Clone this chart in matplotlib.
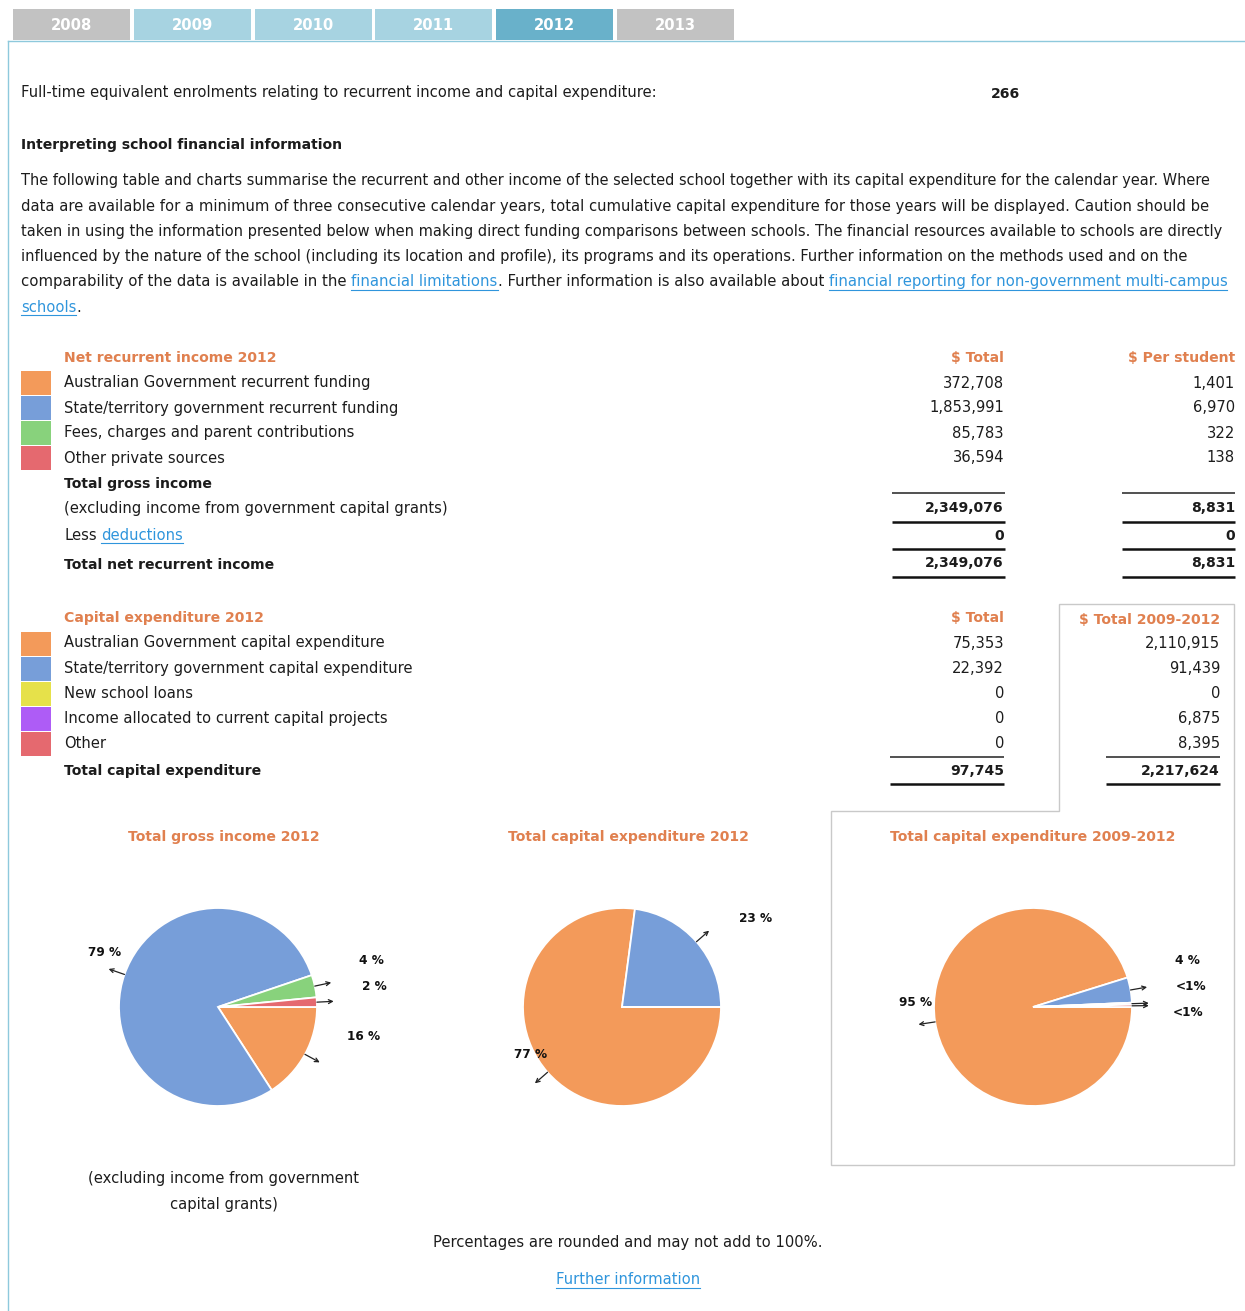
import matplotlib
matplotlib.use('Agg')
import matplotlib.pyplot as plt
from matplotlib.patches import Rectangle, Polygon
import numpy as np

plt.rcParams['font.family'] = ['DejaVu Sans']

# ---------------- data ----------------
tab_years = ['2008', '2009', '2010', '2011', '2012', '2013']
tab_colors = ['#c2c2c2', '#a7d3e1', '#a7d3e1', '#a7d3e1', '#69b1ca', '#c2c2c2']
fte_enrolments = 266

income_labels = ['Australian Government recurrent funding',
                 'State/territory government recurrent funding',
                 'Fees, charges and parent contributions',
                 'Other private sources']
income_total = [372708, 1853991, 85783, 36594]
income_per_student = [1401, 6970, 322, 138]
income_colors = ['#f39a5a', '#779ed9', '#88d27c', '#e5696f']
gross_total, gross_per_student = 2349076, 8831
deductions_total, deductions_per_student = 0, 0
net_total, net_per_student = 2349076, 8831

capital_labels = ['Australian Government capital expenditure',
                  'State/territory government capital expenditure',
                  'New school loans',
                  'Income allocated to current capital projects',
                  'Other']
capital_2012 = [75353, 22392, 0, 0, 0]
capital_2009_2012 = [2110915, 91439, 0, 6875, 8395]
capital_colors = ['#f39a5a', '#779ed9', '#e6e14a', '#ae5cf6', '#e5696f']
capital_total_2012 = 97745
capital_total_2009_2012 = 2217624

paragraph = [
    [("The following table and charts summarise the recurrent and other income of the selected school together with its capital expenditure for the calendar year. Where", False)],
    [("data are available for a minimum of three consecutive calendar years, total cumulative capital expenditure for those years will be displayed. Caution should be", False)],
    [("taken in using the information presented below when making direct funding comparisons between schools. The financial resources available to schools are directly", False)],
    [("influenced by the nature of the school (including its location and profile), its programs and its operations. Further information on the methods used and on the", False)],
    [("comparability of the data is available in the ", False), ("financial limitations", True),
     (". Further information is also available about ", False),
     ("financial reporting for non-government multi-campus", True)],
    [("schools", True), (".", False)],
]
paragraph_line_ends = [1221, 1205, 1227, 1192, 1221, None]

# ---------------- styling ----------------
W, H = 1245, 1311
TXT = '#1c1c1c'
ORANGE_T = '#e0804f'
LINK = '#2f95dc'
BORDER = '#8ec9dc'

fig = plt.figure(figsize=(W / 100, H / 100), dpi=100, facecolor='white')
ax = fig.add_axes([0, 0, 1, 1])
ax.set_xlim(0, W)
ax.set_ylim(H, 0)
ax.axis('off')
ax.set_zorder(10)
renderer = fig.canvas.get_renderer()


def width_of(s, fs, **kw):
    t = ax.text(0, 0, s, fontsize=fs, **kw)
    w = t.get_window_extent(renderer).width
    t.remove()
    return w


def fit_size(s, target, fs0, **kw):
    fs = fs0
    for _ in range(4):
        fs *= target / width_of(s, fs, **kw)
    return fs


# calibrate base font size on a reference line width
FS = fit_size('Full-time equivalent enrolments relating to recurrent income and capital expenditure:', 636, 10)
FSB = FS * 0.95   # bold text is wider in DejaVu


def txt(x, y, s, ha='left', color=TXT, fs=None, bold=False, **kw):
    if bold:
        kw['fontweight'] = 'bold'
        size = fs or FSB
    else:
        size = fs or FS
    return ax.text(x, y, s, ha=ha, va='center', fontsize=size, color=color, **kw)


def link(x, y, s, ha='left', fs=None):
    t = txt(x, y, s, ha=ha, color=LINK, fs=fs)
    bb = t.get_window_extent(renderer)
    ax.plot([bb.x0, bb.x1], [y + 8, y + 8], color=LINK, lw=0.8)
    return bb


# ---------------- tabs & frame ----------------
tab_x0, tab_w, tab_gap = 13, 117, 3.8
for i, (yr, c) in enumerate(zip(tab_years, tab_colors)):
    x0 = tab_x0 + i * (tab_w + tab_gap)
    ax.add_patch(Rectangle((x0, 9), tab_w, 31, color=c, lw=0))
    txt(x0 + tab_w / 2, 25, yr, ha='center', color='white', bold=True, fs=FS)
ax.plot([8, W], [41, 41], color=BORDER, lw=1.0)
ax.plot([8, 8], [41, H], color=BORDER, lw=1.0)

# ---------------- header text ----------------
txt(21, 93, 'Full-time equivalent enrolments relating to recurrent income and capital expenditure:')
txt(1006, 94, str(fte_enrolments), ha='center', bold=True)
txt(21, 145, 'Interpreting school financial information', bold=True)

py = 181
for line, end in zip(paragraph, paragraph_line_ends):
    full = ''.join(s for s, _ in line)
    fs = FS if end is None else fit_size(full, end - 21, FS)
    space_w = width_of('x x', fs) - width_of('xx', fs)
    x = 21
    for seg, is_link in line:
        s = seg.strip(' ')
        lead = len(seg) - len(seg.lstrip(' '))
        trail = len(seg) - len(seg.rstrip(' '))
        x += lead * space_w
        if is_link:
            bb = link(x, py, s, fs=fs)
            x = bb.x1
        else:
            t = txt(x, py, s, fs=fs)
            x = t.get_window_extent(renderer).x1
        x += trail * space_w
    py += 25.2

SPACE_W = width_of('x x', FS) - width_of('xx', FS)

# ---------------- net recurrent income table ----------------
COL1, COL2 = 1004, 1235
txt(64, 358, 'Net recurrent income 2012', color=ORANGE_T, bold=True)
txt(COL1, 358, '$ Total', ha='right', color=ORANGE_T, bold=True)
txt(COL2, 358, '$ Per student', ha='right', color=ORANGE_T, bold=True)
for i, (lab, tot, ps, c) in enumerate(zip(income_labels, income_total, income_per_student, income_colors)):
    y = 383 + 25 * i
    ax.add_patch(Rectangle((21, y - 12.5), 30, 24, color=c, lw=0))
    txt(64, y, lab)
    txt(COL1, y, f'{tot:,}', ha='right')
    txt(COL2, y, f'{ps:,}', ha='right')

txt(64, 484, 'Total gross income', bold=True)
txt(64, 509, '(excluding income from government capital grants)')
t_less = txt(64, 535, 'Less')
link(t_less.get_window_extent(renderer).x1 + SPACE_W, 535, 'deductions')
txt(64, 565, 'Total net recurrent income', bold=True)

txt(COL1, 508, f'{gross_total:,}', ha='right', bold=True)
txt(COL2, 508, f'{gross_per_student:,}', ha='right', bold=True)
txt(COL1, 536, f'{deductions_total:,}', ha='right', bold=True)
txt(COL2, 536, f'{deductions_per_student:,}', ha='right', bold=True)
txt(COL1, 563, f'{net_total:,}', ha='right', bold=True)
txt(COL2, 563, f'{net_per_student:,}', ha='right', bold=True)

for (xa, xb) in [(892, 1005), (1122, 1235)]:
    ax.plot([xa, xb], [493, 493], color='#222', lw=1.1, solid_capstyle='butt')
    for yy in (522, 549, 577):
        ax.plot([xa, xb], [yy, yy], color='#111', lw=1.8, solid_capstyle='butt')

# ---------------- capital expenditure table ----------------
CC1, CC2 = 1004, 1220
ax.add_patch(Polygon([(1059, 604), (1234, 604), (1234, 1165), (831, 1165),
                      (831, 811), (1059, 811)], closed=True, fill=False,
                     edgecolor='#c9c9c9', lw=1.0))
txt(64, 618, 'Capital expenditure 2012', color=ORANGE_T, bold=True)
txt(CC1, 618, '$ Total', ha='right', color=ORANGE_T, bold=True)
txt(CC2, 620, '$ Total 2009-2012', ha='right', color=ORANGE_T, bold=True)
for i, (lab, v1, v2, c) in enumerate(zip(capital_labels, capital_2012, capital_2009_2012, capital_colors)):
    y = 643 + 25.2 * i
    ax.add_patch(Rectangle((21, y - 11.5), 30, 24, color=c, lw=0))
    txt(64, y, lab)
    txt(CC1, y, f'{v1:,}', ha='right')
    txt(CC2, y, f'{v2:,}', ha='right')
txt(64, 771, 'Total capital expenditure', bold=True)
txt(CC1, 771, f'{capital_total_2012:,}', ha='right', bold=True)
txt(CC2, 771, f'{capital_total_2009_2012:,}', ha='right', bold=True)
for (xa, xb) in [(890, 1004), (1106, 1220)]:
    ax.plot([xa, xb], [757, 757], color='#222', lw=1.1, solid_capstyle='butt')
    ax.plot([xa, xb], [784, 784], color='#111', lw=1.8, solid_capstyle='butt')


# ---------------- pies ----------------
def pct_label(v, total):
    p = 100.0 * v / total
    return '<1%' if p < 1 else f'{int(round(p))} %'


def draw_pie(title, title_x, cx, cy, r, values, colors, label_offsets):
    txt(title_x, 837, title, ha='center', color=ORANGE_T, bold=True)
    pa = fig.add_axes([(cx - r) / W, 1 - (cy + r) / H, 2 * r / W, 2 * r / H])
    pa.set_zorder(1)
    wedges, _ = pa.pie(values, colors=colors, startangle=0, counterclock=False,
                       wedgeprops=dict(edgecolor='white', linewidth=1.3))
    pa.set_xlim(-1, 1)
    pa.set_ylim(-1, 1)
    pa.axis('off')
    total = float(sum(values))
    k = 0
    for w, v in zip(wedges, values):
        if v <= 0:
            continue
        th = np.deg2rad((w.theta1 + w.theta2) / 2)
        p0 = (cx + 1.0 * r * np.cos(th), cy - 1.0 * r * np.sin(th))
        p1 = (cx + 1.17 * r * np.cos(th), cy - 1.17 * r * np.sin(th))
        ax.annotate('', xy=p1, xytext=p0,
                    arrowprops=dict(arrowstyle='->', lw=0.9, color='#222',
                                    mutation_scale=7, shrinkA=0, shrinkB=0))
        dx, dy = label_offsets[k]
        txt(cx + dx, cy + dy, pct_label(v, total), ha='center',
            fs=FS * 0.82, fontweight='bold', color='#111')
        k += 1


draw_pie('Total gross income 2012', 224, 218, 1007, 99,
         income_total, income_colors,
         [(146, 30), (-113, -54), (153, -46), (156, -20)])
draw_pie('Total capital expenditure 2012', 628, 622, 1007, 99,
         capital_2012, capital_colors,
         [(-91, 48), (134, -88)])
draw_pie('Total capital expenditure 2009-2012', 1033, 1033, 1007, 99,
         capital_2009_2012, capital_colors,
         [(-117, -4), (154, -46), (158, -20), (155, 6)])

# ---------------- footer ----------------
txt(224, 1179, '(excluding income from government', ha='center')
txt(224, 1204, 'capital grants)', ha='center')
txt(628, 1242, 'Percentages are rounded and may not add to 100%.', ha='center')
link(628, 1280, 'Further information', ha='center')

fig.savefig('out.png', dpi=100, facecolor='white')
